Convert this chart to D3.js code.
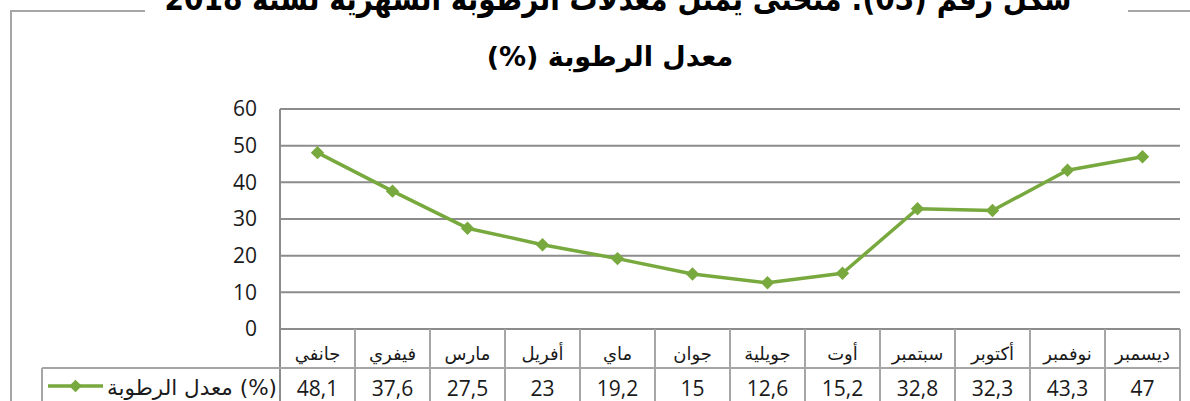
<!DOCTYPE html>
<html>
<head>
<meta charset="utf-8">
<script src="https://cdn.jsdelivr.net/npm/d3@7"></script>
<style>
  body { margin: 0; background: #fff; }
  svg { display: block; }
</style>
</head>
<body>
<div id="chart"></div>
<script>
const months = ["جانفي", "فيفري", "مارس", "أفريل", "ماي", "جوان", "جويلية", "أوت", "سبتمبر", "أكتوبر", "نوفمبر", "ديسمبر"];
const humidity = [48.1, 37.6, 27.5, 23, 19.2, 15, 12.6, 15.2, 32.8, 32.3, 43.3, 47];
const yTicks = [0, 10, 20, 30, 40, 50, 60];
const seriesName = "معدل الرطوبة (%)";
const title1 = "شكل رقم (03): منحنى يمثل معدلات الرطوبة الشهرية لسنة 2018";
const title2 = "معدل الرطوبة (%)";

function drawChart() {
  const width = 1190, height = 401;
  const plot = { left: 280, right: 1180, top: 109, bottom: 329 };
  const rowH = 39; // table row height
  const green = "#78a93e";
  const grid = "#8c8c8c";
  const numFont = "'Open Sans', 'DejaVu Sans', sans-serif";
  const arFont = "'DejaVu Sans', sans-serif";

  const svg = d3.select("#chart").append("svg")
    .attr("width", width).attr("height", height);

  const x = d3.scaleBand().domain(months).range([plot.left, plot.right]);
  const y = d3.scaleLinear().domain([0, 60]).range([plot.bottom, plot.top]);
  const fmt = d3.formatLocale({ decimal: ",", thousands: " ", grouping: [3], currency: ["", ""] }).format("~f");

  // outer chart frame (interrupted by the title)
  svg.append("path")
    .attr("d", `M11,${height} V11 H${width}`)
    .attr("fill", "none").attr("stroke", "#a6a6a6").attr("stroke-width", 2);
  svg.append("rect")
    .attr("x", 145).attr("y", 0).attr("width", 983).attr("height", 20)
    .attr("fill", "#fff");

  svg.append("text")
    .attr("x", 618).attr("y", 10)
    .attr("text-anchor", "middle").attr("direction", "rtl")
    .attr("textLength", 907).attr("lengthAdjust", "spacingAndGlyphs")
    .style("font-family", arFont).style("font-weight", "bold").style("font-size", "32px")
    .text(title1);

  svg.append("text")
    .attr("x", 610).attr("y", 66)
    .attr("text-anchor", "middle").attr("direction", "rtl")
    .style("font-family", arFont).style("font-weight", "bold").style("font-size", "27px")
    .text(title2);

  // gridlines
  svg.append("g")
    .selectAll("line")
    .data(yTicks)
    .join("line")
    .attr("x1", plot.left).attr("x2", plot.right)
    .attr("y1", d => y(d)).attr("y2", d => y(d))
    .attr("stroke", grid).attr("stroke-width", 2);

  // y axis
  const yAxis = svg.append("g")
    .attr("transform", `translate(${plot.left},0)`)
    .call(d3.axisLeft(y).tickValues(yTicks).tickSize(0).tickPadding(23));
  yAxis.select(".domain").attr("stroke", grid).attr("stroke-width", 2)
    .attr("d", `M0,${plot.top}V${height}`);
  yAxis.selectAll("text")
    .style("font-family", numFont).style("font-size", "21px").attr("fill", "#1a1a1a");

  // data table
  const tbl = svg.append("g").attr("stroke", "#a6a6a6").attr("stroke-width", 2).attr("fill", "none");
  tbl.append("line")
    .attr("x1", 42).attr("x2", plot.right)
    .attr("y1", plot.bottom + rowH).attr("y2", plot.bottom + rowH);
  tbl.append("line")
    .attr("x1", 42).attr("x2", 42)
    .attr("y1", plot.bottom + rowH).attr("y2", height);
  tbl.selectAll(".col")
    .data(months)
    .join("line")
    .attr("x1", d => x(d) + x.bandwidth()).attr("x2", d => x(d) + x.bandwidth())
    .attr("y1", plot.bottom).attr("y2", height);

  svg.append("g")
    .selectAll("text")
    .data(months)
    .join("text")
    .attr("x", d => x(d) + x.bandwidth() / 2)
    .attr("y", plot.bottom + 31)
    .attr("text-anchor", "middle")
    .style("font-family", arFont).style("font-size", "18px").attr("fill", "#1a1a1a")
    .text(d => d);

  svg.append("g")
    .selectAll("text")
    .data(humidity)
    .join("text")
    .attr("x", (d, i) => x(months[i]) + x.bandwidth() / 2)
    .attr("y", 396)
    .attr("text-anchor", "middle")
    .style("font-family", numFont).style("font-size", "21px").attr("fill", "#1a1a1a")
    .text(d => fmt(d));

  // legend key in the table
  const ly = 386;
  svg.append("line")
    .attr("x1", 48).attr("x2", 103).attr("y1", ly).attr("y2", ly)
    .attr("stroke", green).attr("stroke-width", 3.5);
  svg.append("path")
    .attr("d", d3.symbol(d3.symbolSquare, 80)())
    .attr("transform", `translate(75.5,${ly}) rotate(45)`)
    .attr("fill", green);
  svg.append("text")
    .attr("x", 277).attr("y", 395)
    .attr("text-anchor", "end")
    .attr("textLength", 170).attr("lengthAdjust", "spacingAndGlyphs")
    .style("font-family", arFont).style("font-size", "21px").attr("fill", "#1a1a1a")
    .text(seriesName);

  // series line
  const line = d3.line()
    .x((d, i) => x(months[i]) + x.bandwidth() / 2)
    .y(d => y(d));
  svg.append("path")
    .datum(humidity)
    .attr("d", line)
    .attr("fill", "none").attr("stroke", green).attr("stroke-width", 3.5)
    .attr("stroke-linejoin", "round");

  svg.append("g")
    .selectAll("path")
    .data(humidity)
    .join("path")
    .attr("d", d3.symbol(d3.symbolSquare, 90)())
    .attr("transform", (d, i) => `translate(${x(months[i]) + x.bandwidth() / 2},${y(d)}) rotate(45)`)
    .attr("fill", green);
}

drawChart();
</script>
</body>
</html>
